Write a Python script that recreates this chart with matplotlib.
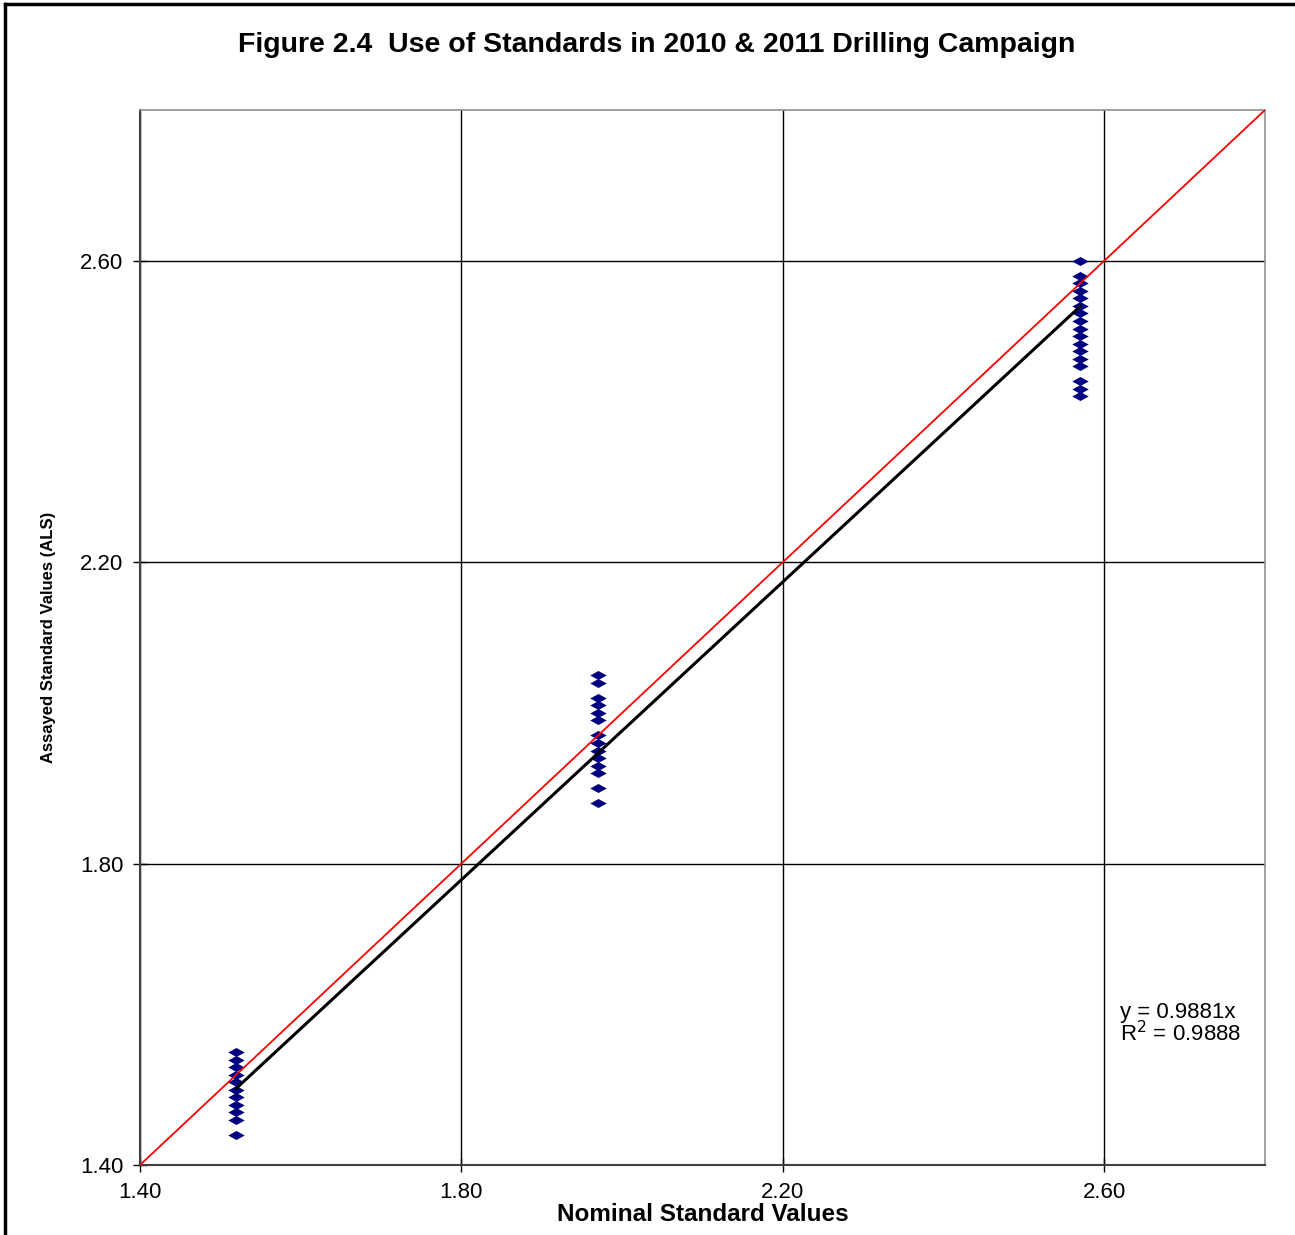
import numpy as np
import matplotlib.pyplot as plt
from matplotlib.path import Path
from matplotlib.lines import Line2D

# nominal values of the three standards
nominal = [1.52, 1.97, 2.57]

# assayed values, one list per standard
assay_std1 = [1.55, 1.54, 1.53, 1.52, 1.51, 1.50, 1.49, 1.48, 1.47, 1.46, 1.44]
assay_std2 = [2.05, 2.04, 2.02, 2.01, 2.00, 1.99, 1.97, 1.96, 1.95, 1.94,
              1.93, 1.92, 1.90, 1.88]
assay_std3 = [2.60, 2.58, 2.57, 2.56, 2.55, 2.54, 2.53, 2.52, 2.51, 2.50,
              2.49, 2.48, 2.47, 2.46, 2.44, 2.43, 2.42]

slope = 0.9881
r2 = 0.9888
ticks = [1.40, 1.80, 2.20, 2.60]
lims = [1.40, 2.80]

plt.rcParams['font.family'] = ['Liberation Sans', 'DejaVu Sans']

fig = plt.figure(figsize=(12.95, 12.35), dpi=100)
ax = fig.add_axes([140 / 1295, 1 - 1165 / 1235, 1125 / 1295, 1055 / 1235])

x = []
y = []
for nom, vals in zip(nominal, [assay_std1, assay_std2, assay_std3]):
    x += [nom] * len(vals)
    y += vals

# wide flat diamond like the excel marker
diamond = Path([(-1, 0), (0, 0.55), (1, 0), (0, -0.55), (-1, 0)],
               [Path.MOVETO, Path.LINETO, Path.LINETO, Path.LINETO, Path.CLOSEPOLY])
ax.scatter(x, y, marker=diamond, s=140, color='#000080', zorder=3, linewidths=0)

# 1:1 line
ax.plot(lims, lims, color='red', lw=1.3, zorder=4)

# trend line through origin
xt = np.array([min(x), max(x)])
ax.plot(xt, slope * xt, color='black', lw=2.2, zorder=4)

ax.text(2.619, 1.603, 'y = %.4fx' % slope, fontsize=16, va='center')
ax.text(2.619, 1.574, 'R$^2$ = %.4f' % r2, fontsize=16, va='center')

ax.set_xlim(lims)
ax.set_ylim(lims)
ax.set_xticks(ticks)
ax.set_yticks(ticks)
ax.set_xticklabels(['%.2f' % t for t in ticks])
ax.set_yticklabels(['%.2f' % t for t in ticks])
ax.tick_params(direction='inout', length=10, labelsize=16, width=1, pad=7)
ax.grid(True, color='black', lw=1)
for s in ['left', 'bottom']:
    ax.spines[s].set_color('#404040')
    ax.spines[s].set_linewidth(1.5)
for s in ['top', 'right']:
    ax.spines[s].set_color('#909090')
    ax.spines[s].set_linewidth(1.2)

ax.set_xlabel('Nominal Standard Values', fontsize=17.5, fontweight='bold', labelpad=0)
ax.set_ylabel('Assayed Standard Values (ALS)', fontsize=12, fontweight='bold', labelpad=17)

fig.text(0.507, 1 - 45 / 1235, 'Figure 2.4  Use of Standards in 2010 & 2011 Drilling Campaign',
         ha='center', va='center', fontsize=20.5, fontweight='bold')

# outer border (left and top)
fig.add_artist(Line2D([5 / 1295, 5 / 1295], [0, 1 - 4 / 1235], color='black', lw=2.5,
                      transform=fig.transFigure))
fig.add_artist(Line2D([5 / 1295, 1], [1 - 4 / 1235, 1 - 4 / 1235], color='black', lw=2.5,
                      transform=fig.transFigure))

fig.savefig('out.png', dpi=100)
